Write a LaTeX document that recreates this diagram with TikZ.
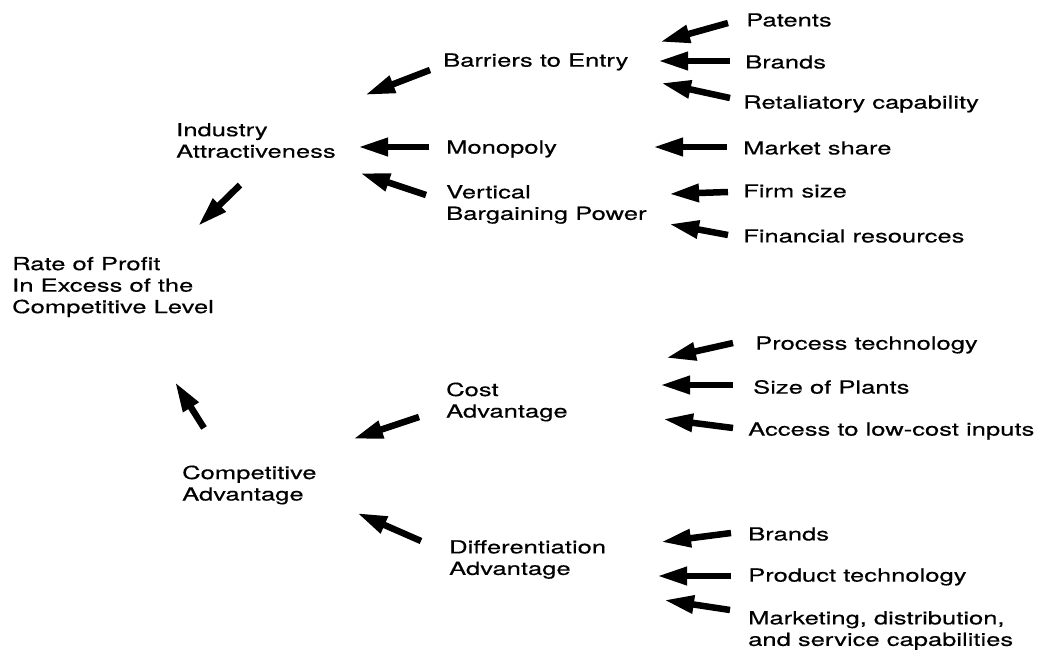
\documentclass[tikz,border=0pt]{standalone}
\usepackage{fontspec}
\setmainfont{TeX Gyre Heros}[FakeStretch=1.42,FakeBold=0.4]
\usetikzlibrary{arrows.meta}
\begin{document}
\begin{tikzpicture}[x=1pt,y=-1pt,
  lbl/.style={anchor=west,inner sep=0pt,align=left,
    font=\fontsize{18}{21.5}\selectfont},
  fat/.style={line width=6.5pt,-{Triangle[length=30pt,width=17pt]}}]
\useasboundingbox (0,0) rectangle (1039,650);

% ---- factor labels ----
\node[lbl] (patents) at (746,20) {Patents};
\node[lbl] (brandsA) at (745,62) {Brands};
\node[lbl] (retal) at (743,104) {Retaliatory capability};
\node[lbl] (mshare) at (743,148) {Market share};
\node[lbl] (firm) at (743,191) {Firm size};
\node[lbl] (fin) at (743,236) {Financial resources};
\node[lbl] (barriers) at (443,62) {Barriers to Entry};
\node[lbl] (mono) at (446,149) {Monopoly};
\node[lbl] (vert) at (446,204.5) {Vertical\\Bargaining Power};
\node[lbl] (industry) at (176,140.5) {Industry\\Attractiveness};
\node[lbl] (profit) at (12,287) {Rate of Profit\\In Excess of the\\Competitive Level};
\node[lbl] (process) at (755,345) {Process technology};
\node[lbl] (plants) at (753,387) {Size of Plants};
\node[lbl] (access) at (748,431) {Access to low-cost inputs};
\node[lbl] (cost) at (446,402) {Cost\\Advantage};
\node[lbl] (compet) at (182,485) {Competitive\\Advantage};
\node[lbl] (brandsB) at (748,534) {Brands};
\node[lbl] (prodtech) at (748,577) {Product technology};
\node[lbl] (mkt) at (748,630.5) {Marketing, distribution,\\and service capabilities};
\node[lbl] (diff) at (449,559.5) {Differentiation\\Advantage};

% ---- arrow end points (T = tail, H = head) ----
\coordinate (barT) at (430,70);  \coordinate (barH) at (365,95);
\coordinate (monT) at (429,147); \coordinate (monH) at (358,147);
\coordinate (verT) at (426,195); \coordinate (verH) at (360,173);
\coordinate (patT) at (728,23);  \coordinate (patH) at (660,42);
\coordinate (braT) at (730,61);  \coordinate (braH) at (658,61);
\coordinate (retT) at (730,98);  \coordinate (retH) at (661,83);
\coordinate (msT) at (727,147);  \coordinate (msH) at (653,147);
\coordinate (fsT) at (728,192);  \coordinate (fsH) at (669,194);
\coordinate (finT) at (728,235); \coordinate (finH) at (669,224);
\coordinate (indT) at (240,185); \coordinate (indH) at (198,226);
\coordinate (comT) at (204,428); \coordinate (comH) at (175,382);
\coordinate (cosT) at (419,417); \coordinate (cosH) at (353,439);
\coordinate (difT) at (421,541); \coordinate (difH) at (357,513);
\coordinate (proT) at (733,343); \coordinate (proH) at (666,358);
\coordinate (plaT) at (733,385); \coordinate (plaH) at (660,385);
\coordinate (accT) at (733,428); \coordinate (accH) at (663,419);
\coordinate (brbT) at (731,533); \coordinate (brbH) at (661,542);
\coordinate (ptT) at (731,576);  \coordinate (ptH) at (657,576);
\coordinate (mktT) at (730,610); \coordinate (mktH) at (664,600);

% ---- arrows ----
\foreach \a in {bar,mon,ver,pat,bra,ret,ms,fs,fin,ind,com,cos,dif,pro,pla,acc,brb,pt,mkt}
  \draw[fat] (\a T) -- (\a H);
\end{tikzpicture}
\end{document}
